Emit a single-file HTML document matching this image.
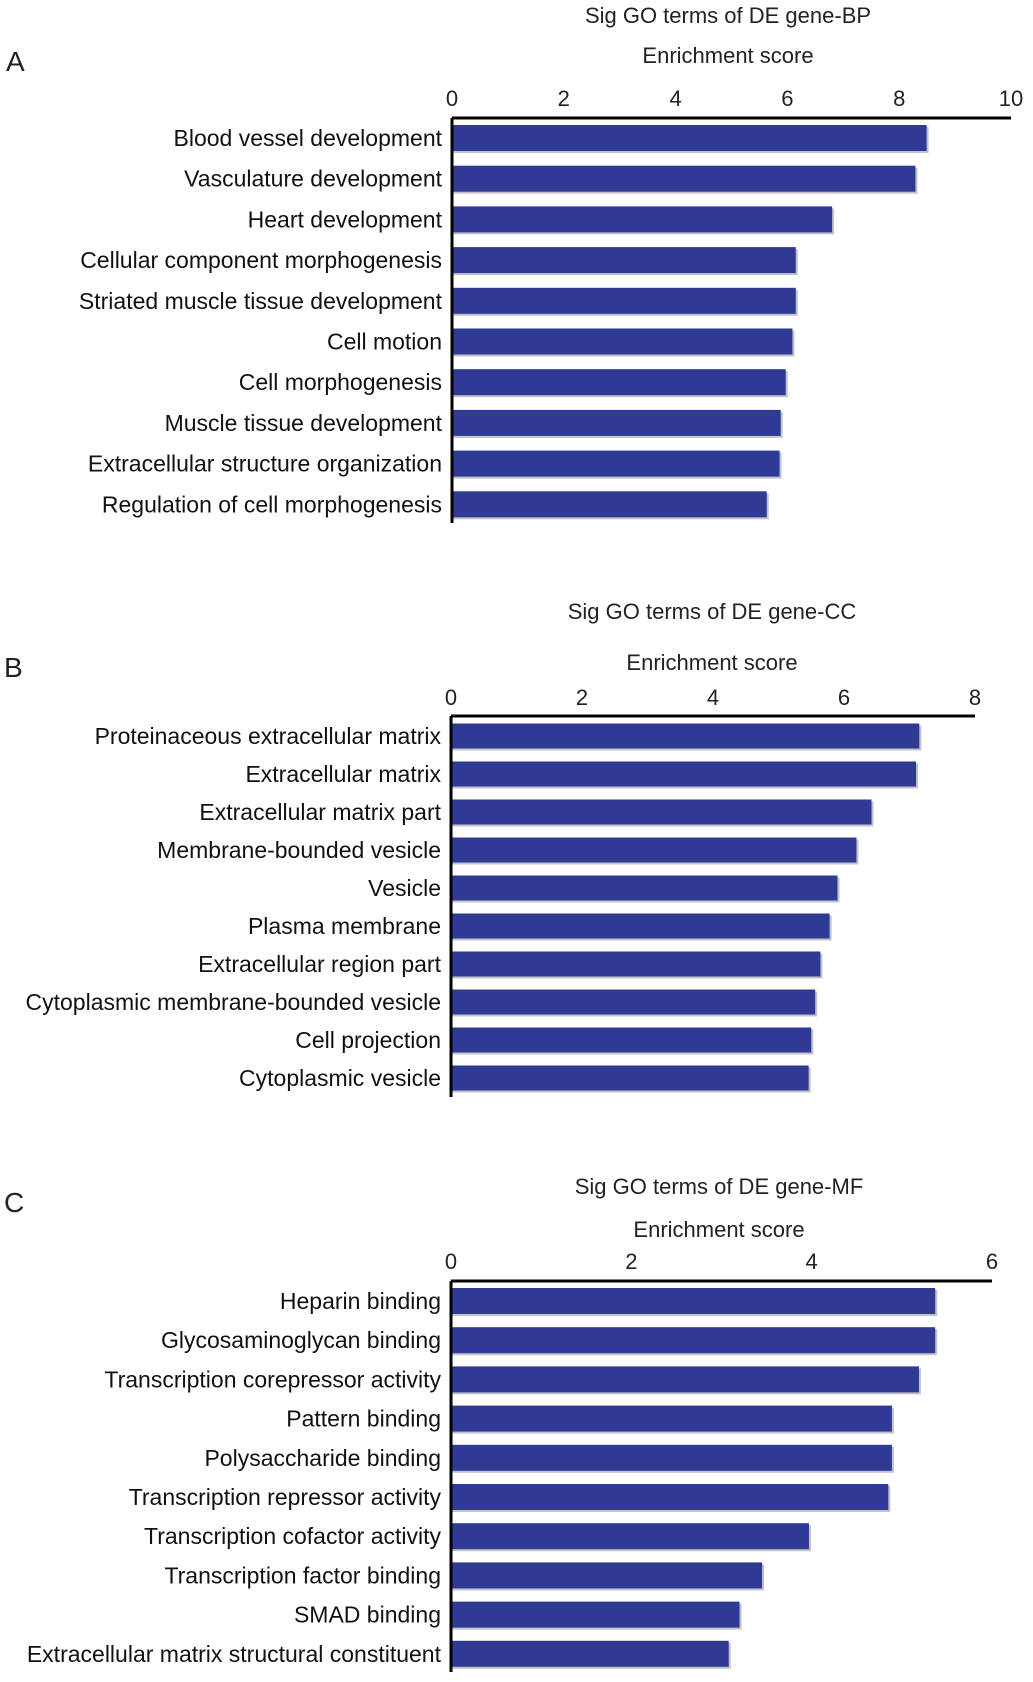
<!DOCTYPE html>
<html><head><meta charset="utf-8"><style>
html,body{margin:0;padding:0;background:#fff;}
svg{display:block;font-family:"Liberation Sans",Arial,sans-serif;}
</style></head><body>
<svg id="chart" width="1033" height="1682" viewBox="0 0 1033 1682" xmlns="http://www.w3.org/2000/svg"></svg>
<script>
const catsA = ["Blood vessel development","Vasculature development","Heart development","Cellular component morphogenesis","Striated muscle tissue development","Cell motion","Cell morphogenesis","Muscle tissue development","Extracellular structure organization","Regulation of cell morphogenesis"];
const valsA = [8.49,8.29,6.8,6.15,6.15,6.09,5.97,5.88,5.86,5.63];
const ticksA = [0,2,4,6,8,10];
const catsB = ["Proteinaceous extracellular matrix","Extracellular matrix","Extracellular matrix part","Membrane-bounded vesicle","Vesicle","Plasma membrane","Extracellular region part","Cytoplasmic membrane-bounded vesicle","Cell projection","Cytoplasmic vesicle"];
const valsB = [7.15,7.1,6.42,6.19,5.9,5.78,5.64,5.56,5.5,5.46];
const ticksB = [0,2,4,6,8];
const catsC = ["Heparin binding","Glycosaminoglycan binding","Transcription corepressor activity","Pattern binding","Polysaccharide binding","Transcription repressor activity","Transcription cofactor activity","Transcription factor binding","SMAD binding","Extracellular matrix structural constituent"];
const valsC = [5.37,5.37,5.19,4.89,4.89,4.85,3.97,3.45,3.2,3.08];
const ticksC = [0,2,4,6];

const NS="http://www.w3.org/2000/svg";
const svg=document.getElementById('chart');
function mk(tag,attrs,parent){const e=document.createElementNS(NS,tag);for(const k in attrs)e.setAttribute(k,attrs[k]);(parent||svg).appendChild(e);return e;}

function panel(id,letter,title,cats,vals,ticks,cfg){
  const g=mk('g',{});
  
  
  const xs=v=>cfg.x0+(v-ticks[0])/(ticks[ticks.length-1]-ticks[0])*(cfg.x1-cfg.x0);
  const ys=i=>cfg.yFirst+i*cfg.step;
  const L=mk('text',{x:cfg.letterX,y:cfg.letterY,'font-size':28,fill:'#222'},g);L.textContent=letter;
  
  
  const T=mk('text',{x:cfg.titleX,y:cfg.titleY,'font-size':22,fill:'#222','text-anchor':'middle'},g);T.textContent=title;
  
  
  const A=mk('text',{x:cfg.titleX,y:cfg.axisTitleY,'font-size':22,fill:'#222','text-anchor':'middle'},g);A.textContent='Enrichment score';
  
  
  ticks.forEach(t=>{
    const tl=mk('text',{x:xs(t),y:cfg.tickY,'font-size':22,fill:'#222','text-anchor':'middle'},g);tl.textContent=t;
    
    
  });
  cats.forEach((c,i)=>{
    const y=ys(i);
    const sh=mk('rect',{x:cfg.x0,y:y-cfg.bh/2+2,width:xs(vals[i])-cfg.x0+2,height:cfg.bh,fill:'#9a9aa8',opacity:0.6},g);
    
    
    const r=mk('rect',{x:cfg.x0,y:y-cfg.bh/2,width:xs(vals[i])-cfg.x0,height:cfg.bh,fill:'#2e3a94'},g);
    
    
    const lb=mk('text',{x:cfg.x0-10,y:y+8,'font-size':23,fill:'#111','text-anchor':'end'},g);lb.textContent=c;
    
    
  });
  const ax=mk('line',{x1:cfg.x0,y1:cfg.axisY,x2:cfg.x1,y2:cfg.axisY,stroke:'#000','stroke-width':3},g);
  
  
  const ay=mk('line',{x1:cfg.x0,y1:cfg.axisY,x2:cfg.x0,y2:cfg.axisBottom,stroke:'#000','stroke-width':3},g);
  
  
}
panel('bp','A','Sig GO terms of DE gene-BP',catsA,valsA,ticksA,{x0:452,x1:1011,axisY:118,axisBottom:523,yFirst:138,step:40.7,bh:26,letterX:6,letterY:71,titleX:728,titleY:23,axisTitleY:63,tickY:106});
panel('cc','B','Sig GO terms of DE gene-CC',catsB,valsB,ticksB,{x0:451,x1:975,axisY:716,axisBottom:1097,yFirst:736,step:38,bh:25,letterX:4,letterY:677,titleX:712,titleY:619,axisTitleY:670,tickY:705});
panel('mf','C','Sig GO terms of DE gene-MF',catsC,valsC,ticksC,{x0:451,x1:992,axisY:1281,axisBottom:1672,yFirst:1301,step:39.2,bh:26,letterX:4,letterY:1212,titleX:719,titleY:1194,axisTitleY:1237,tickY:1269});
</script>
</body></html>
